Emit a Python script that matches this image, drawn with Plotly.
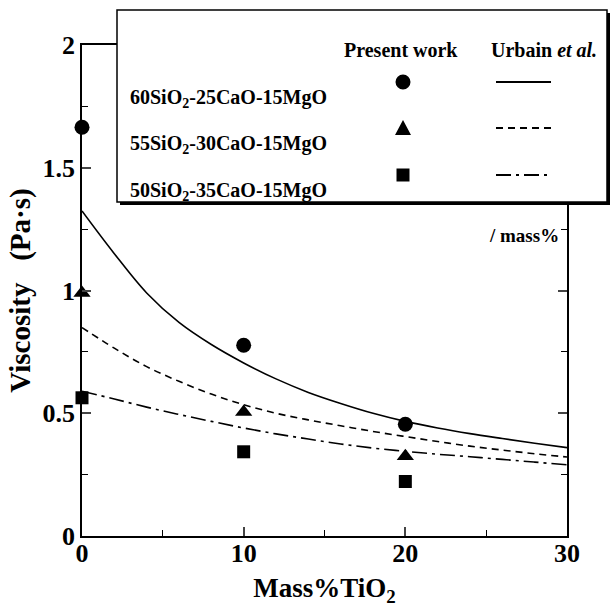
import plotly.graph_objects as go

# ---- data ----
x_meas = [0, 10, 20]
visc_60 = [1.665, 0.777, 0.455]
visc_55 = [0.99, 0.505, 0.325]
visc_50 = [0.563, 0.343, 0.222]

x_calc = [0, 2, 4, 6, 8, 10, 12, 14, 16, 18, 20, 22, 24, 26, 28, 30]
urbain_60 = [1.324, 1.15, 0.99, 0.87, 0.78, 0.705, 0.64, 0.585, 0.54, 0.50, 0.467,
             0.44, 0.417, 0.397, 0.378, 0.36]
urbain_55 = [0.849, 0.765, 0.69, 0.63, 0.578, 0.535, 0.50, 0.473, 0.449, 0.426, 0.405,
             0.385, 0.366, 0.35, 0.335, 0.322]
urbain_50 = [0.59, 0.558, 0.525, 0.495, 0.467, 0.44, 0.416, 0.395, 0.375, 0.358, 0.345,
             0.333, 0.323, 0.312, 0.301, 0.29]

labels = ["60SiO<sub>2</sub>-25CaO-15MgO",
          "55SiO<sub>2</sub>-30CaO-15MgO",
          "50SiO<sub>2</sub>-35CaO-15MgO"]

FONT = "Liberation Serif"
L, R, T, B = 82, 567, 45, 536
W, H = R - L, B - T


def px(xp):
    return (xp - L) / W


def py(yp):
    return (B - yp) / H


fig = go.Figure()

dashes = ["solid", "7px,5px", "15px,5px,3px,5px"]
for ys, d in zip([urbain_60, urbain_55, urbain_50], dashes):
    fig.add_trace(go.Scatter(x=x_calc, y=ys, mode="lines", line_shape="spline",
                             line=dict(color="black", width=1.6, dash=d),
                             showlegend=False, hoverinfo="skip"))

symbols = ["circle", "triangle-up", "square"]
sizes = [15, 15, 13]
for ys, s, sz in zip([visc_60, visc_55, visc_50], symbols, sizes):
    fig.add_trace(go.Scatter(x=x_meas, y=ys, mode="markers",
                             marker=dict(symbol=s, size=sz, color="black"),
                             cliponaxis=False, showlegend=False))

shapes = []
annotations = []
# legend box with shadow
shapes.append(dict(type="rect", xref="paper", yref="paper",
                   x0=px(120), x1=px(610), y0=py(205), y1=py(13),
                   fillcolor="black", line=dict(width=0), layer="above"))
shapes.append(dict(type="rect", xref="paper", yref="paper",
                   x0=px(117), x1=px(607), y0=py(202), y1=py(10),
                   fillcolor="white", line=dict(color="black", width=1.5), layer="above"))

annotations.append(dict(text="<b>Present work</b>", x=px(342), y=py(37), xref="paper", yref="paper",
                        xanchor="left", showarrow=False,
                        font=dict(family=FONT, size=20, color="black")))
annotations.append(dict(text="<b>Urbain <i>et al.</i></b>", x=px(489), y=py(37), xref="paper", yref="paper",
                        xanchor="left", showarrow=False,
                        font=dict(family=FONT, size=20, color="black")))

rows = [82, 128, 175]
mx, r = 403, 7.5
for i, (lab, yy) in enumerate(zip(labels, rows)):
    annotations.append(dict(text="<b>" + lab + "</b>", x=px(128), y=py(yy + 2), xref="paper", yref="paper",
                            xanchor="left", showarrow=False,
                            font=dict(family=FONT, size=20, color="black")))
    shapes.append(dict(type="line", xref="paper", yref="paper",
                       x0=px(496), x1=px(551), y0=py(yy), y1=py(yy),
                       line=dict(color="black", width=1.8, dash=dashes[i]), layer="above"))
# legend symbols
shapes.append(dict(type="circle", xref="paper", yref="paper",
                   x0=px(mx - r), x1=px(mx + r), y0=py(rows[0] + r), y1=py(rows[0] - r),
                   fillcolor="black", line=dict(width=0), layer="above"))
shapes.append(dict(type="path", xref="paper", yref="paper",
                   path=f"M {px(mx-8)},{py(rows[1]+7)} L {px(mx+8)},{py(rows[1]+7)} L {px(mx)},{py(rows[1]-8)} Z",
                   fillcolor="black", line=dict(width=0), layer="above"))
shapes.append(dict(type="rect", xref="paper", yref="paper",
                   x0=px(mx - 6.5), x1=px(mx + 6.5), y0=py(rows[2] + 6.5), y1=py(rows[2] - 6.5),
                   fillcolor="black", line=dict(width=0), layer="above"))

annotations.append(dict(text="<b>/ mass%</b>", x=px(561), y=py(236), xref="paper", yref="paper",
                        xanchor="right", showarrow=False,
                        font=dict(family=FONT, size=19, color="black")))

fig.update_layout(
    width=611, height=607,
    margin=dict(l=L, r=611 - R, t=T, b=607 - B),
    paper_bgcolor="white", plot_bgcolor="white",
    shapes=shapes, annotations=annotations,
    xaxis=dict(range=[0, 30], dtick=10, tick0=0, ticks="inside", ticklen=9, tickwidth=1.5,
               showline=True, linecolor="black", linewidth=1.5, mirror="ticks",
               showgrid=False, zeroline=False, automargin=False, ticklabelstandoff=-7,
               minor=dict(dtick=5, ticks="inside", ticklen=6, tickwidth=1.3, tickcolor="black"),
               tickfont=dict(family=FONT, size=26, color="black", weight="bold"),
               title=dict(text="<b>Mass%TiO<sub>2</sub></b>", standoff=20,
                          font=dict(family=FONT, size=27, color="black"))),
    yaxis=dict(range=[0, 2], dtick=0.5, tick0=0, ticks="inside", ticklen=9, tickwidth=1.5,
               showline=True, linecolor="black", linewidth=1.5, mirror="ticks",
               showgrid=False, zeroline=False, automargin=False,
               minor=dict(dtick=0.25, ticks="inside", ticklen=6, tickwidth=1.3, tickcolor="black"),
               tickfont=dict(family=FONT, size=26, color="black", weight="bold"),
               title=dict(text="<b>Viscosity&nbsp;&nbsp;&nbsp;(Pa·s)</b>", standoff=3,
                          font=dict(family=FONT, size=29, color="black"))),
)

fig.write_html("out.html", config={"displayModeBar": False},
               post_script="document.body.style.margin='0px';")
